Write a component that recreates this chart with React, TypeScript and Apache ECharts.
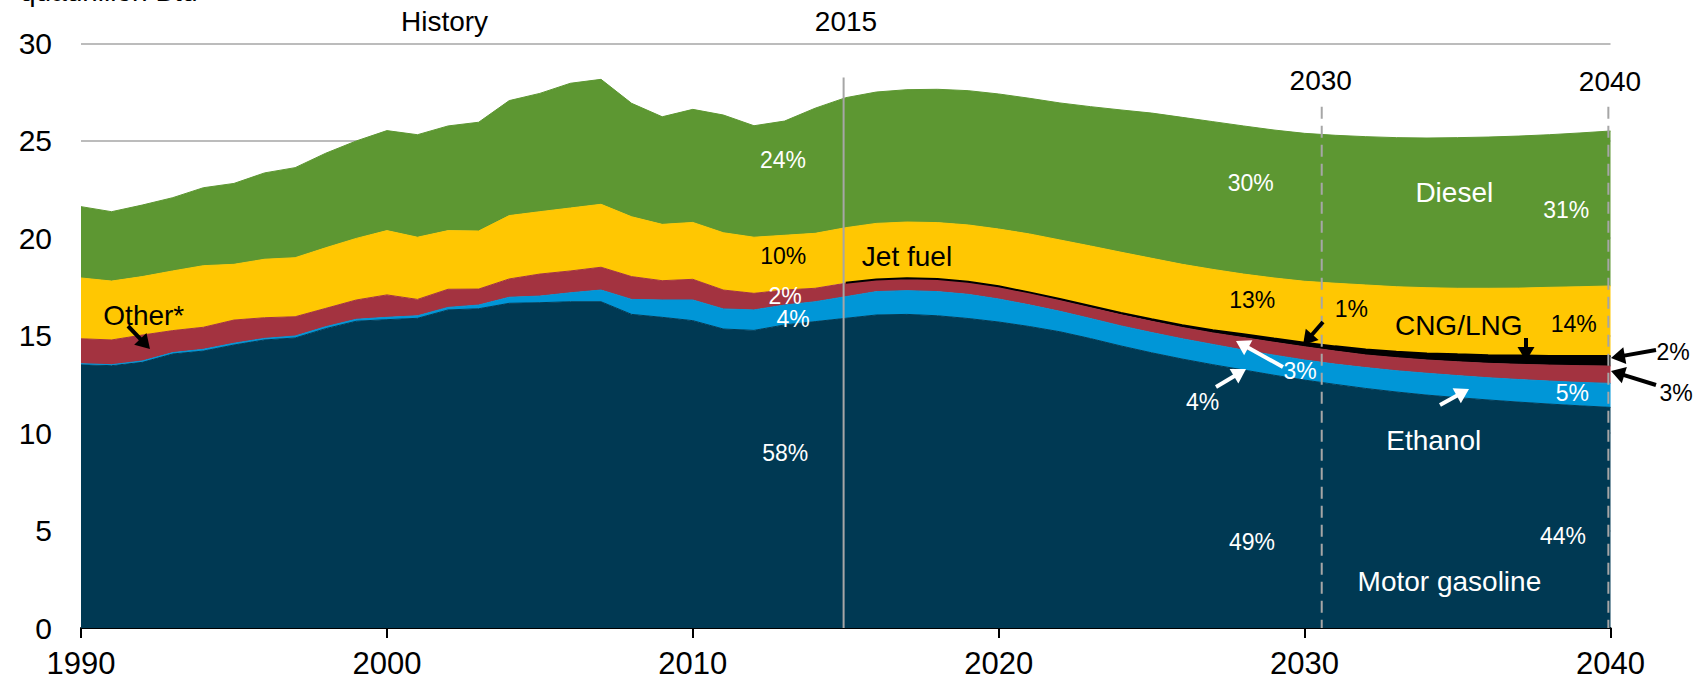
import React, { useEffect, useRef } from 'react';
import * as echarts from 'echarts';

const years = [
  1990, 1991, 1992, 1993, 1994, 1995, 1996, 1997, 1998, 1999,
  2000, 2001, 2002, 2003, 2004, 2005, 2006, 2007, 2008, 2009,
  2010, 2011, 2012, 2013, 2014, 2015, 2016, 2017, 2018, 2019,
  2020, 2021, 2022, 2023, 2024, 2025, 2026, 2027, 2028, 2029,
  2030, 2031, 2032, 2033, 2034, 2035, 2036, 2037, 2038, 2039,
  2040,
];

const motorGasoline = [
  13.51, 13.46, 13.63, 14.06, 14.21, 14.52, 14.78, 14.88, 15.36, 15.74,
  15.82, 15.89, 16.32, 16.38, 16.66, 16.69, 16.74, 16.74, 16.09, 15.94,
  15.77, 15.34, 15.27, 15.55, 15.72, 15.89, 16.06, 16.09, 16.02, 15.88,
  15.7, 15.47, 15.2, 14.85, 14.47, 14.12, 13.8, 13.51, 13.24, 12.97,
  12.72, 12.5, 12.29, 12.11, 11.95, 11.82, 11.7, 11.59, 11.49, 11.4,
  11.32,
];

const ethanol = [
  0.05, 0.05, 0.07, 0.07, 0.09, 0.09, 0.08, 0.1, 0.1, 0.1,
  0.12, 0.13, 0.13, 0.19, 0.31, 0.34, 0.46, 0.6, 0.77, 0.89,
  1.06, 1.03, 1.05, 1.02, 1.02, 1.11, 1.2, 1.22, 1.24, 1.24,
  1.18, 1.11, 1.05, 1.03, 1.03, 1.04, 1.04, 1.04, 1.02, 1.03,
  1.03, 1.04, 1.07, 1.09, 1.12, 1.13, 1.14, 1.16, 1.18, 1.2,
  1.23,
];

const other = [
  1.28, 1.27, 1.33, 1.13, 1.13, 1.19, 1.06, 0.99, 0.94, 0.99,
  1.15, 0.84, 0.93, 0.82, 0.94, 1.13, 1.12, 1.17, 1.17, 0.99,
  1.06, 0.97, 0.85, 0.77, 0.69, 0.69, 0.6, 0.6, 0.62, 0.6,
  0.6, 0.59, 0.57, 0.57, 0.58, 0.58, 0.58, 0.59, 0.64, 0.66,
  0.68, 0.67, 0.65, 0.67, 0.68, 0.71, 0.74, 0.78, 0.82, 0.86,
  0.89,
];

const cngLng = [
  null, null, null, null, null, null, null, null, null, null,
  null, null, null, null, null, null, null, null, null, null,
  null, null, null, null, null, 0.02, 0.02, 0.03, 0.03, 0.04,
  0.05, 0.05, 0.06, 0.07, 0.08, 0.1, 0.12, 0.14, 0.17, 0.19,
  0.21, 0.24, 0.28, 0.31, 0.34, 0.38, 0.42, 0.45, 0.47, 0.5,
  0.52,
];

const jetFuel = [
  3.12, 3.02, 3.0, 3.06, 3.16, 2.86, 3.0, 3.03, 3.11, 3.16,
  3.3, 3.19, 3.01, 2.98, 3.25, 3.2, 3.23, 3.23, 3.07, 2.89,
  2.92, 2.94, 2.88, 2.81, 2.82, 2.83, 2.88, 2.89, 2.89, 2.92,
  2.94, 3.0, 3.03, 3.08, 3.12, 3.13, 3.12, 3.12, 3.09, 3.11,
  3.15, 3.24, 3.31, 3.33, 3.37, 3.39, 3.43, 3.46, 3.52, 3.55,
  3.59,
];

const diesel = [
  3.66, 3.56, 3.67, 3.76, 4.0, 4.15, 4.43, 4.62, 4.85, 5.0,
  5.13, 5.26, 5.37, 5.58, 5.9, 6.07, 6.4, 6.41, 5.82, 5.52,
  5.8, 6.04, 5.72, 5.86, 6.42, 6.67, 6.74, 6.79, 6.84, 6.89,
  6.93, 6.96, 7.03, 7.15, 7.3, 7.45, 7.54, 7.58, 7.6, 7.59,
  7.59, 7.59, 7.61, 7.65, 7.68, 7.73, 7.76, 7.8, 7.83, 7.89,
  7.95,
];

// Reference lines: [year position, top value, dashed]
const refLines: [number, number, boolean][] = [
  [2014.93, 28.25, false],
  [2030.56, 26.75, true],
  [2039.93, 26.75, true],
];

const FONT = '"Liberation Sans", Arial, Helvetica, sans-serif';

const COLORS = {
  gasoline: '#003953',
  ethanol: '#0096D7',
  other: '#A33340',
  cng: '#000000',
  jet: '#FFC702',
  diesel: '#5D9732',
};

function txt(text: string, x: number, y: number, size: number, color: string, align: string = 'center') {
  return {
    type: 'text',
    x,
    y,
    z: 100,
    silent: true,
    style: { text, fill: color, fontSize: size, fontFamily: FONT, align, verticalAlign: 'middle' },
  };
}

function arrow(x1: number, y1: number, x2: number, y2: number, color: string) {
  const dx = x2 - x1;
  const dy = y2 - y1;
  const len = Math.hypot(dx, dy);
  const ux = dx / len;
  const uy = dy / len;
  const hl = 14;
  const hw = 17;
  const bx = x2 - ux * hl;
  const by = y2 - uy * hl;
  const nx = -uy;
  const ny = ux;
  return {
    type: 'group',
    z: 100,
    silent: true,
    children: [
      {
        type: 'line',
        z: 100,
        shape: { x1, y1, x2: bx + ux * 2, y2: by + uy * 2 },
        style: { stroke: color, lineWidth: 4 },
      },
      {
        type: 'polygon',
        z: 100,
        shape: {
          points: [
            [x2, y2],
            [bx + (nx * hw) / 2, by + (ny * hw) / 2],
            [bx - (nx * hw) / 2, by - (ny * hw) / 2],
          ],
        },
        style: { fill: color },
      },
    ],
  };
}

function mkSeries(name: string, vals: (number | null)[], color: string, lineColor: string, lineWidth: number) {
  return {
    name,
    type: 'line',
    stack: 'total',
    data: vals.map((v) => (v == null ? '-' : v)),
    showSymbol: false,
    symbol: 'none',
    connectNulls: false,
    lineStyle: { width: lineWidth, color: lineColor },
    itemStyle: { color },
    areaStyle: { color, opacity: 1 },
    emphasis: { disabled: true },
  };
}

export default function App() {
  const ref = useRef<HTMLDivElement>(null);

  useEffect(() => {
    if (!ref.current) return;
    const chart = echarts.init(ref.current, null, { renderer: 'svg' });
    const gray = '#A6A6A6';
    const option: any = {
      animation: false,
      backgroundColor: '#ffffff',
      grid: { left: 81, right: 85.5, top: 43.3, bottom: 52, containLabel: false, outerBoundsMode: 'none' },
      xAxis: {
        type: 'category',
        data: years.map(String),
        boundaryGap: false,
        axisLine: { show: true, lineStyle: { color: '#000', width: 2 } },
        axisTick: { show: true, length: 10, interval: 9, lineStyle: { color: '#000', width: 2 } },
        axisLabel: {
          interval: 9,
          fontSize: 31,
          lineHeight: 30,
          color: '#000',
          fontFamily: FONT,
          margin: 20,
        },
        splitLine: { show: false },
      },
      yAxis: {
        type: 'value',
        min: 0,
        max: 30,
        interval: 5,
        axisLine: { show: false },
        axisTick: { show: false },
        axisLabel: { fontSize: 30, color: '#000', fontFamily: FONT, margin: 29 },
        splitLine: { show: true, lineStyle: { color: gray, width: 1.5 } },
      },
      series: [
        mkSeries('Motor gasoline', motorGasoline, COLORS.gasoline, COLORS.gasoline, 1),
        mkSeries('Ethanol', ethanol, COLORS.ethanol, COLORS.ethanol, 1),
        mkSeries('Other*', other, COLORS.other, COLORS.other, 1),
        mkSeries('CNG/LNG', cngLng, COLORS.cng, '#000000', 2),
        mkSeries('Jet fuel', jetFuel, COLORS.jet, COLORS.jet, 1),
        mkSeries('Diesel', diesel, COLORS.diesel, COLORS.diesel, 1),
      ],
    };
    chart.setOption(option);

    // Reference lines positioned through the axes' own scales
    const xAt = (yr: number) => {
      const i0 = Math.floor(yr - years[0]);
      const i1 = Math.min(i0 + 1, years.length - 1);
      const p0 = chart.convertToPixel({ xAxisIndex: 0 }, String(years[i0])) as number;
      const p1 = chart.convertToPixel({ xAxisIndex: 0 }, String(years[i1])) as number;
      const f = yr - years[i0];
      return p0 + (p1 - p0) * f;
    };
    const yAt = (v: number) => chart.convertToPixel({ yAxisIndex: 0 }, v) as number;
    const lines = refLines.map(([yr, top, dashed]) => ({
      type: 'line',
      z: 50,
      silent: true,
      shape: { x1: xAt(yr), y1: yAt(top), x2: xAt(yr), y2: yAt(0) },
      style: { stroke: gray, lineWidth: 2, lineDash: dashed ? [12, 7] : null },
    }));

    chart.setOption({
      graphic: [
        ...lines,
        txt('quadrillion Btu', 20, -9, 28, '#000', 'left'),
        txt('History', 444.5, 21, 28, '#000'),
        txt('2015', 846, 21.7, 28, '#000'),
        txt('2030', 1320.7, 80, 28, '#000'),
        txt('2040', 1610, 81, 28, '#000'),
        txt('Other*', 143.8, 315, 28, '#000'),
        txt('24%', 783, 160, 23, '#fff'),
        txt('10%', 783.3, 256, 23, '#000'),
        txt('2%', 785, 295.5, 23, '#fff'),
        txt('4%', 793, 318.7, 23, '#fff'),
        txt('58%', 785.3, 453.3, 23, '#fff'),
        txt('Jet fuel', 907, 256.7, 28, '#000'),
        txt('30%', 1250.8, 183.3, 23, '#fff'),
        txt('Diesel', 1454.3, 192, 28, '#fff'),
        txt('31%', 1566.3, 210, 23, '#fff'),
        txt('13%', 1252.3, 300, 23, '#000'),
        txt('1%', 1351.3, 309.3, 23, '#000'),
        txt('CNG/LNG', 1458.7, 325, 28, '#000'),
        txt('14%', 1573.7, 324.3, 23, '#000'),
        txt('3%', 1300, 371, 23, '#fff'),
        txt('4%', 1202.7, 401.7, 23, '#fff'),
        txt('5%', 1572.3, 393.3, 23, '#fff'),
        txt('Ethanol', 1433.7, 440, 28, '#fff'),
        txt('49%', 1252, 541.7, 23, '#fff'),
        txt('44%', 1563, 535.8, 23, '#fff'),
        txt('Motor gasoline', 1449.4, 581, 28, '#fff'),
        txt('2%', 1673, 352, 23, '#000'),
        txt('3%', 1676, 393, 23, '#000'),
        arrow(128, 326, 150, 349, '#000'),
        arrow(1323, 322, 1303, 345, '#000'),
        arrow(1283, 367, 1236, 341, '#fff'),
        arrow(1216, 387, 1246, 369, '#fff'),
        arrow(1440, 405, 1469, 389, '#fff'),
        arrow(1526, 338, 1526, 361, '#000'),
        arrow(1656, 350, 1611, 358, '#000'),
        arrow(1656, 385, 1611, 371, '#000'),
      ],
    });
    return () => {
      chart.dispose();
    };
  }, []);

  return (
    <div
      ref={ref}
      style={{ position: 'absolute', left: 0, top: 0, width: 1696, height: 680, background: '#fff' }}
    />
  );
}
